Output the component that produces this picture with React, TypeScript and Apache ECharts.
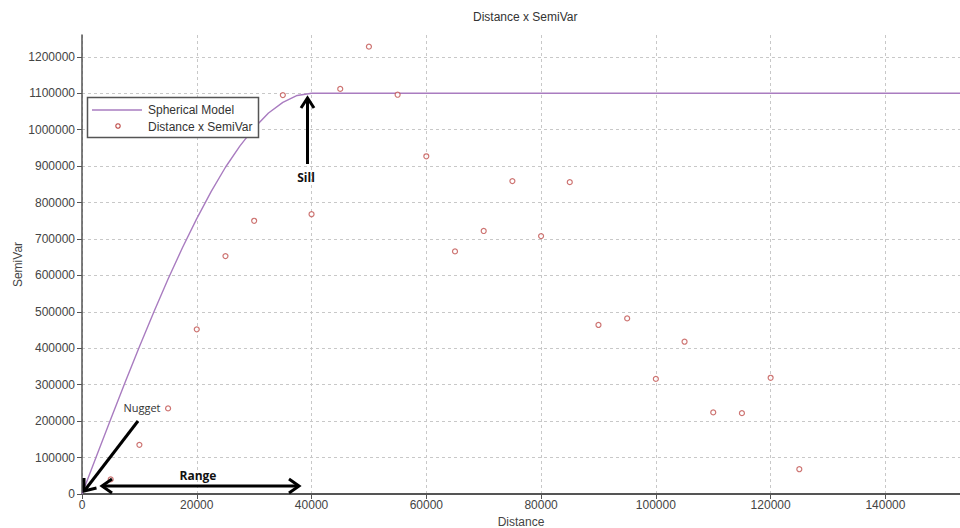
import React, { useEffect, useRef } from "react";
import * as echarts from "echarts";

// Observed lag distances and semivariances (scatter)
const obsDistance = [5000, 10000, 15000, 20000, 25000, 30000, 35000, 40000, 45000, 50000, 55000, 60000, 65000, 70000, 75000, 80000, 85000, 90000, 95000, 100000, 105000, 110000, 115000, 120000, 125000];
const obsSemiVar = [40000, 135000, 235000, 452000, 653000, 750000, 1095000, 768000, 1112000, 1228000, 1096000, 927000, 666000, 722000, 859000, 708000, 856000, 464000, 482000, 316000, 418000, 224000, 222000, 319000, 68000];

// Spherical model curve
const modelDistance = [0, 2500, 5000, 7500, 10000, 12500, 15000, 17500, 20000, 22500, 25000, 27500, 30000, 32500, 35000, 37500, 40000, 155000];
const modelSemiVar = [0, 103000, 205000, 306000, 404000, 499000, 590000, 676000, 756000, 830000, 897000, 955000, 1005000, 1046000, 1075000, 1094000, 1100000, 1100000];

const xTicks = [0, 20000, 40000, 60000, 80000, 100000, 120000, 140000];
const yTicks = [0, 100000, 200000, 300000, 400000, 500000, 600000, 700000, 800000, 900000, 1000000, 1100000, 1200000];

const TITLE = "Distance x SemiVar";
const MODEL_NAME = "Spherical Model";
const OBS_NAME = "Distance x SemiVar";

const LINE_COLOR = "#a97cc0";
const MARK_COLOR = "#c0504d";
const FONT = "Liberation Sans, Arial, sans-serif";

export default function App() {
  const ref = useRef<HTMLDivElement>(null);

  useEffect(() => {
    if (!ref.current) return;
    const chart = echarts.init(ref.current, null, { renderer: "svg" });

    const lineData = modelDistance.map((d, i) => [d, modelSemiVar[i]]);
    const scatterData = obsDistance.map((d, i) => [d, obsSemiVar[i]]);

    const arrowStyle = { stroke: "#000", lineWidth: 3, fill: null, lineJoin: "miter" };
    const plain = (v: number) => String(v);

    chart.setOption({
      animation: false,
      backgroundColor: "#fff",
      textStyle: { fontFamily: FONT },
      title: {
        text: TITLE,
        left: 473,
        top: 11,
        padding: 0,
        textStyle: { fontSize: 12, fontWeight: "normal", color: "#333", fontFamily: FONT },
      },
      grid: { left: 82, right: 0, top: 35, bottom: 34, containLabel: false, outerBoundsMode: "none" },
      xAxis: {
        type: "value",
        min: 0,
        max: 153000,
        interval: 20000,
        name: "Distance",
        nameLocation: "middle",
        nameGap: 21,
        nameTextStyle: { fontSize: 12, color: "#444", fontFamily: FONT },
        axisLine: { lineStyle: { color: "#555", width: 2 } },
        axisTick: { show: true, length: 5, lineStyle: { color: "#555", width: 1 }, customValues: xTicks },
        axisLabel: { fontSize: 12, color: "#444", margin: 5, fontFamily: FONT, customValues: xTicks, formatter: plain },
        splitLine: { show: true, lineStyle: { color: "#c8c8c8", type: [3, 3], width: 1 } },
      },
      yAxis: {
        type: "value",
        min: 0,
        max: 1260000,
        interval: 100000,
        name: "SemiVar",
        nameLocation: "middle",
        nameGap: 58,
        nameMoveOverlap: false,
        nameTextStyle: { fontSize: 12, color: "#444", fontFamily: FONT },
        axisLine: { show: true, lineStyle: { color: "#555", width: 1.5 } },
        axisTick: { show: true, length: 5, lineStyle: { color: "#555", width: 1 }, customValues: yTicks },
        axisLabel: { fontSize: 12, color: "#444", margin: 7, fontFamily: FONT, customValues: yTicks, formatter: plain },
        splitLine: { show: true, lineStyle: { color: "#c8c8c8", type: [3, 3], width: 1 } },
      },
      series: [
        {
          name: MODEL_NAME,
          type: "line",
          data: lineData,
          showSymbol: false,
          smooth: false,
          lineStyle: { color: LINE_COLOR, width: 1.4 },
          z: 2,
        },
        {
          name: OBS_NAME,
          type: "scatter",
          data: scatterData,
          symbol: "circle",
          symbolSize: 5,
          itemStyle: { color: "#fff", borderColor: MARK_COLOR, borderWidth: 1.2 },
          z: 3,
        },
      ],
      graphic: [
        // legend box
        { type: "rect", z: 100, shape: { x: 87.5, y: 97.5, width: 171, height: 40 }, style: { fill: "#fff", stroke: "#555", lineWidth: 1.5 } },
        { type: "line", z: 101, shape: { x1: 92, y1: 110, x2: 142, y2: 110 }, style: { stroke: LINE_COLOR, lineWidth: 1.3 } },
        { type: "circle", z: 101, shape: { cx: 118, cy: 126, r: 2.2 }, style: { fill: "#fff", stroke: MARK_COLOR, lineWidth: 1.2 } },
        { type: "text", z: 101, x: 148, y: 110, style: { text: MODEL_NAME, fontSize: 12, fill: "#333", verticalAlign: "middle", fontFamily: FONT } },
        { type: "text", z: 101, x: 148, y: 127, style: { text: OBS_NAME, fontSize: 12, fill: "#333", verticalAlign: "middle", fontFamily: FONT } },
        // Sill arrow
        { type: "line", z: 100, shape: { x1: 307.5, y1: 164, x2: 307.5, y2: 99 }, style: arrowStyle },
        { type: "polyline", z: 100, shape: { points: [[301, 108], [307.5, 98], [314, 108]] }, style: arrowStyle },
        { type: "text", z: 100, x: 306, y: 177, style: { text: "Sill", fontSize: 12, fontWeight: "bold", fill: "#111", align: "center", verticalAlign: "middle", fontFamily: "Open Sans, sans-serif" } },
        // Nugget arrow
        { type: "text", z: 100, x: 142, y: 407, style: { text: "Nugget", fontSize: 11, fill: "#333", align: "center", verticalAlign: "middle", fontFamily: "Open Sans, sans-serif" } },
        { type: "line", z: 100, shape: { x1: 138, y1: 421, x2: 85, y2: 490 }, style: arrowStyle },
        { type: "polyline", z: 100, shape: { points: [[84, 478], [84, 491], [96.5, 488]] }, style: arrowStyle },
        // Range arrow
        { type: "line", z: 100, shape: { x1: 103, y1: 486, x2: 298, y2: 486 }, style: arrowStyle },
        { type: "polyline", z: 100, shape: { points: [[112, 479], [102, 486], [112, 493]] }, style: arrowStyle },
        { type: "polyline", z: 100, shape: { points: [[289, 479], [299, 486], [289, 493]] }, style: arrowStyle },
        { type: "text", z: 100, x: 198, y: 475, style: { text: "Range", fontSize: 12, fontWeight: "bold", fill: "#111", align: "center", verticalAlign: "middle", fontFamily: "Open Sans, sans-serif" } },
      ],
    });

    return () => chart.dispose();
  }, []);

  return (
    <div
      ref={ref}
      style={{ position: "fixed", left: 0, top: 0, width: 960, height: 528, background: "#fff" }}
    />
  );
}
